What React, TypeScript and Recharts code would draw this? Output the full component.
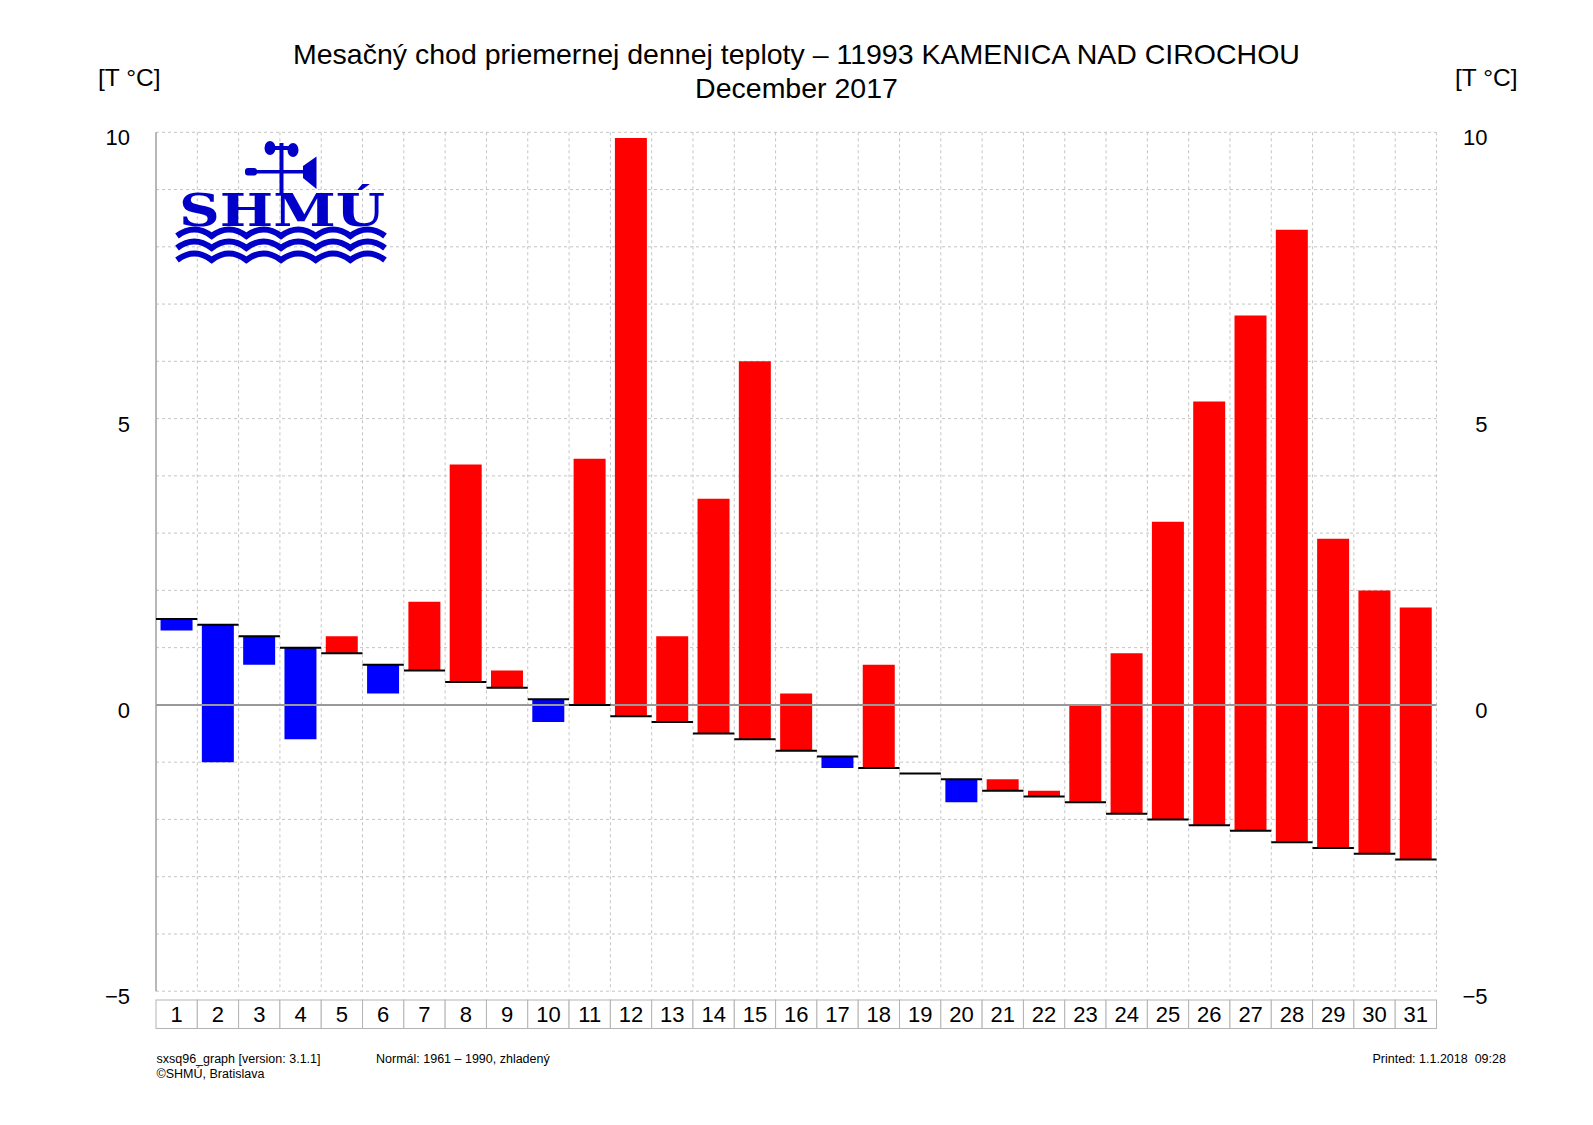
import React from 'react';
import { ComposedChart, Bar, Scatter, XAxis, YAxis, CartesianGrid, ReferenceLine, Cell } from 'recharts';

const days = ['1','2','3','4','5','6','7','8','9','10','11','12','13','14','15','16','17','18','19','20','21','22','23','24','25','26','27','28','29','30','31'];
const normals = [1.5, 1.4, 1.2, 1.0, 0.9, 0.7, 0.6, 0.4, 0.3, 0.1, 0.0, -0.2, -0.3, -0.5, -0.6, -0.8, -0.9, -1.1, -1.2, -1.3, -1.5, -1.6, -1.7, -1.9, -2.0, -2.1, -2.2, -2.4, -2.5, -2.6, -2.7];
const actuals = [1.3, -1.0, 0.7, -0.6, 1.2, 0.2, 1.8, 4.2, 0.6, -0.3, 4.3, 9.9, 1.2, 3.6, 6.0, 0.2, -1.1, 0.7, -1.2, -1.7, -1.3, -1.5, 0.0, 0.9, 3.2, 5.3, 6.8, 8.3, 2.9, 2.0, 1.7];
const yTicks = [-5, 0, 5, 10];
const gridValues = [-5, -4, -3, -2, -1, 0, 1, 2, 3, 4, 5, 6, 7, 8, 9, 10];

const data = days.map((d, i) => ({
  day: d,
  normal: normals[i],
  actual: actuals[i],
  range: [Math.min(normals[i], actuals[i]), Math.max(normals[i], actuals[i])],
}));

const W = 1593;
const H = 1125;
const PLOT_L = 156;
const PLOT_R = 1436.5;
const PLOT_T = 132.3;
const PLOT_B = 991.2;
const YAXIS_W = 60;
const XAXIS_H = 40;
const BAND = (PLOT_R - PLOT_L) / days.length;
const BOX_TOP = 1000;
const BOX_H = 28.5;
const FONT = '"Liberation Sans", Arial, Helvetica, sans-serif';
const LOGO = '#0000c8';

const fmt = (v: number) => (v < 0 ? `\u2212${Math.abs(v)}` : `${v}`);

const DayTick = (props: any) => {
  const { x, payload } = props;
  return (
    <g>
      <rect x={x - BAND / 2} y={BOX_TOP} width={BAND} height={BOX_H} fill="#fff" stroke="#b4b4b4" strokeWidth={1} />
      <text x={x} y={BOX_TOP + BOX_H / 2} dy="0.36em" textAnchor="middle" fontSize={22} fontFamily={FONT} fill="#000">
        {payload.value}
      </text>
    </g>
  );
};

const SideTick = (props: any) => {
  const { x, y, payload } = props;
  return (
    <text x={x} y={y + 5} dy="0.36em" textAnchor="end" fontSize={22} fontFamily={FONT} fill="#000">
      {fmt(payload.value)}
    </text>
  );
};

const NormalMark = (props: any) => {
  const { cx, cy } = props;
  if (cx == null || cy == null) return null;
  return <line x1={cx - BAND / 2} x2={cx + BAND / 2} y1={cy} y2={cy} stroke="#000" strokeWidth={2} />;
};

const wavePath = (y: number) => {
  const x0 = 177;
  const x1 = 385;
  const n = 6;
  const p = (x1 - x0) / n;
  let d = `M ${x0} ${y}`;
  for (let k = 0; k < n; k++) {
    const xs = x0 + k * p;
    d += ` Q ${xs + p / 2} ${y - 13} ${xs + p} ${y}`;
  }
  return d;
};

const Logo = () => (
  <svg width={W} height={H} style={{ position: 'absolute', left: 0, top: 0, pointerEvents: 'none' }}>
    <ellipse cx={270} cy={148} rx={5.5} ry={7} fill={LOGO} />
    <ellipse cx={293} cy={150} rx={5.5} ry={7} fill={LOGO} />
    <rect x={270} y={146} width={23} height={4} fill={LOGO} />
    <rect x={279.5} y={143} width={4} height={50} fill={LOGO} />
    <rect x={247} y={170} width={60} height={3.5} fill={LOGO} />
    <rect x={245} y={168} width={12} height={7.5} rx={3} fill={LOGO} />
    <polygon points="303,166 316.5,156.5 316.5,189 303,178" fill={LOGO} />
    <text x={179} y={226} fontSize={44} fontWeight={900} fontFamily='"DejaVu Serif", serif' fill={LOGO} textLength={206} lengthAdjust="spacingAndGlyphs">
      SHMÚ
    </text>
    {[236, 248, 260].map((y) => (
      <path key={y} d={wavePath(y)} stroke={LOGO} strokeWidth={6} fill="none" />
    ))}
  </svg>
);

const textBase: React.CSSProperties = { position: 'absolute', fontFamily: FONT, color: '#000', whiteSpace: 'nowrap' };

export default function App() {
  return (
    <div style={{ position: 'absolute', left: 0, top: 0, width: W, height: H, background: '#fff', overflow: 'hidden' }}>
      <ComposedChart
        width={W}
        height={H}
        data={data}
        barCategoryGap="11%"
        margin={{ top: PLOT_T, left: PLOT_L - YAXIS_W, right: W - PLOT_R - YAXIS_W, bottom: H - PLOT_B - XAXIS_H }}
      >
        <CartesianGrid
          yAxisId="left"
          stroke="#c4c4c4"
          strokeDasharray="3 3"
          horizontalValues={gridValues}
          verticalCoordinatesGenerator={({ offset }: any) =>
            days.map((_, i) => offset.left + ((i + 1) * offset.width) / days.length)
          }
        />
        <XAxis
          dataKey="day"
          type="category"
          height={XAXIS_H}
          interval={0}
          tickLine={false}
          axisLine={false}
          tick={<DayTick />}
        />
        <YAxis
          yAxisId="left"
          orientation="left"
          width={YAXIS_W}
          domain={[-5, 10]}
          ticks={yTicks}
          interval={0}
          tickLine={false}
          tickSize={0}
          tickMargin={26}
          axisLine={{ stroke: '#a0a0a0', strokeWidth: 1.5 }}
          tick={<SideTick />}
          allowDataOverflow
        />
        <YAxis
          yAxisId="right"
          orientation="right"
          width={YAXIS_W}
          domain={[-5, 10]}
          ticks={yTicks}
          interval={0}
          tickLine={false}
          tickSize={0}
          tickMargin={51}
          axisLine={false}
          tick={<SideTick />}
          allowDataOverflow
        />
        <ReferenceLine yAxisId="left" y={0} stroke="#999" strokeWidth={2} />
        <Bar yAxisId="left" dataKey="range" isAnimationActive={false}>
          {data.map((d, i) => (
            <Cell key={i} fill={d.actual >= d.normal ? '#ff0000' : '#0000ff'} />
          ))}
        </Bar>
        <Scatter yAxisId="left" dataKey="normal" isAnimationActive={false} shape={<NormalMark />} />
      </ComposedChart>

      <Logo />

      <div style={{ ...textBase, left: 0, width: W, top: 38, fontSize: 28.5, lineHeight: '32px', textAlign: 'center' }}>
        Mesačný chod priemernej dennej teploty – 11993 KAMENICA NAD CIROCHOU
      </div>
      <div style={{ ...textBase, left: 0, width: W, top: 72, fontSize: 28.5, lineHeight: '32px', textAlign: 'center' }}>
        December 2017
      </div>
      <div style={{ ...textBase, left: 98, top: 64, fontSize: 24.5, lineHeight: '28px' }}>[T °C]</div>
      <div style={{ ...textBase, left: 1455, top: 64, fontSize: 24.5, lineHeight: '28px' }}>[T °C]</div>

      <div style={{ ...textBase, left: 156.5, top: 1052, fontSize: 12.5, lineHeight: '15px' }}>sxsq96_graph [version: 3.1.1]</div>
      <div style={{ ...textBase, left: 156.5, top: 1067, fontSize: 12.5, lineHeight: '15px' }}>©SHMÚ, Bratislava</div>
      <div style={{ ...textBase, left: 376, top: 1052, fontSize: 12.5, lineHeight: '15px' }}>Normál: 1961 – 1990, zhladený</div>
      <div style={{ ...textBase, left: 1372.5, top: 1052, fontSize: 12.5, lineHeight: '15px' }}>Printed: 1.1.2018&nbsp;&nbsp;09:28</div>
    </div>
  );
}
